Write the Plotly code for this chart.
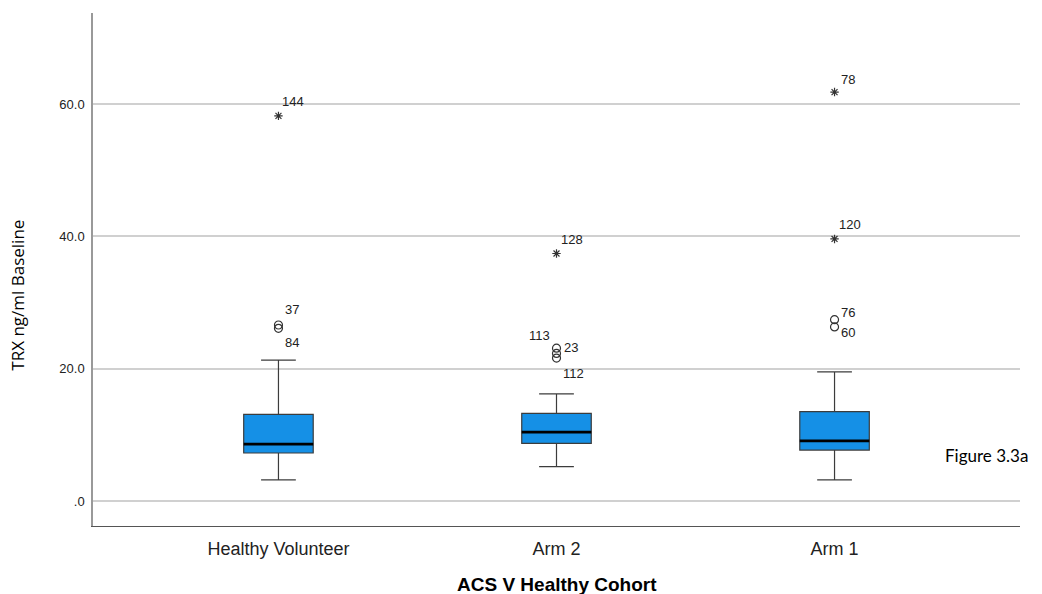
import plotly.graph_objects as go

categories = ["Healthy Volunteer", "Arm 2", "Arm 1"]
lower_fence = [3.2, 5.2, 3.2]
q1 = [7.25, 8.7, 7.7]
median = [8.6, 10.4, 9.1]
q3 = [13.1, 13.25, 13.5]
upper_fence = [21.3, 16.2, 19.5]

# outliers (circles): category index, value, case label
out_cat = [0, 0, 1, 1, 1, 2, 2]
out_val = [26.6, 26.1, 23.1, 22.3, 21.6, 27.4, 26.3]
out_lab = ["37", "84", "113", "23", "112", "76", "60"]
# extreme values (stars)
ext_cat = [0, 1, 2, 2]
ext_val = [58.2, 37.4, 61.8, 39.6]
ext_lab = ["144", "128", "78", "120"]

tick_vals = [0, 20, 40, 60]
tick_text = [".0", "20.0", "40.0", "60.0"]

x_title = "ACS V Healthy Cohort"
y_title = "TRX ng/ml Baseline"
note = "Figure 3.3a"

# label placement styles (xshift, yshift, xanchor)
out_pos = [(5, 15, "left"), (5, -14, "left"), (-5, 13, "right"), (5, 6, "left"),
           (4, -15, "left"), (4, 7, "left"), (4, -6, "left")]
ext_pos = [(2, 14, "left"), (2, 14, "left"), (4, 13, "left"), (2, 14, "left")]

BOX_W = 0.25
FONT = "Liberation Sans, Arial, sans-serif"

fig = go.Figure()
xs = list(range(len(categories)))
fig.add_trace(go.Box(
    x=xs, q1=q1, median=median, q3=q3, lowerfence=lower_fence, upperfence=upper_fence,
    width=BOX_W, whiskerwidth=0.5, fillcolor="#1590e6",
    line=dict(color="#3c3c3c", width=1.2), boxpoints=False, showlegend=False,
    hoverinfo="skip"))

# thick black median lines
for i, m in zip(xs, median):
    fig.add_trace(go.Scatter(x=[i - BOX_W / 2, i + BOX_W / 2], y=[m, m], mode="lines",
                             line=dict(color="black", width=2.8), showlegend=False,
                             hoverinfo="skip"))

fig.add_trace(go.Scatter(x=out_cat, y=out_val, mode="markers", showlegend=False,
                         marker=dict(symbol="circle-open", size=8,
                                     line=dict(color="#333", width=1.2), color="#333")))
fig.add_trace(go.Scatter(x=ext_cat, y=ext_val, mode="markers", showlegend=False,
                         marker=dict(symbol="asterisk-open", size=7,
                                     line=dict(color="#333", width=1.2), color="#333")))

for c, v, lab, (dx, dy, xa) in zip(out_cat + ext_cat, out_val + ext_val,
                                   out_lab + ext_lab, out_pos + ext_pos):
    fig.add_annotation(x=c, y=v, text=lab, showarrow=False, xshift=dx, yshift=dy,
                       xanchor=xa, yanchor="middle",
                       font=dict(family=FONT, size=13, color="#222"))

fig.add_annotation(xref="paper", yref="paper", x=0.9644, y=0.1384,
                   text=note, showarrow=False, xanchor="center", yanchor="middle",
                   font=dict(family="Lato, sans-serif", size=17, color="black"))

# axis titles
fig.add_annotation(xref="paper", yref="paper", x=0.5, y=-0.115, text=f"<b>{x_title}</b>",
                   showarrow=False, xanchor="center", yanchor="middle",
                   font=dict(family=FONT, size=19, color="black"))
fig.add_annotation(xref="paper", yref="paper", x=-0.0814, y=0.45, text=y_title,
                   textangle=-90, showarrow=False, xanchor="center", yanchor="middle",
                   font=dict(family="Open Sans, sans-serif", size=17, color="black"))

fig.update_layout(
    width=1042, height=594,
    margin=dict(l=93, r=22, t=13, b=68),
    plot_bgcolor="white", paper_bgcolor="white",
    font=dict(family=FONT, color="#222"),
    xaxis=dict(range=[-0.667, 2.667], tickvals=xs, ticktext=categories,
               tickfont=dict(size=18, color="#222"), showgrid=False, zeroline=False,
               showline=True, linecolor="#555", linewidth=1, ticks="",
               ticklabelstandoff=6, automargin=False),
    yaxis=dict(range=[-3.78, 73.75], tickvals=tick_vals, ticktext=tick_text,
               tickfont=dict(size=13, color="#222"), showgrid=True, gridcolor="#d0d0d0",
               gridwidth=1.5, zeroline=False, showline=True, linecolor="#999",
               linewidth=1.5, ticks="", ticklabelstandoff=4, automargin=False),
)

fig.write_html("out.html", config={"displayModeBar": False},
               post_script="document.body.style.margin='0';")
